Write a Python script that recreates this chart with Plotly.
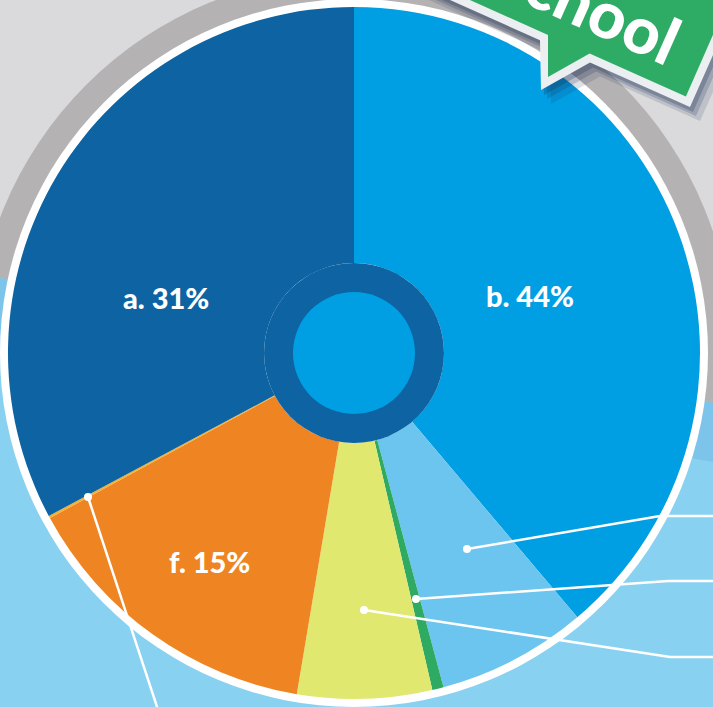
import math
import plotly.graph_objects as go

W, H = 713, 707

# ---- data (slice shares, clockwise from 12 o'clock) ----
categories = ["b", "c", "d", "e", "f", "g", "a"]
values = [38.83, 7.0, 0.53, 6.28, 14.44, 0.11, 32.8]
slice_colors = ["#009fe3", "#6cc5ee", "#2eaa63", "#e0e870", "#ee8422", "#f2b134", "#0e63a2"]
label_texts = ["a. 31%", "b. 44%", "f. 15%"]
banner_text = "school"

# ---- geometry helpers (pixel -> paper) ----
CX, CY, R = 354, 353, 346


def px(x):
    return x / W


def py(y):
    return 1 - y / H


def circle(cx, cy, r, color, layer):
    return dict(type="circle", xref="paper", yref="paper",
                x0=px(cx - r), x1=px(cx + r), y0=py(cy + r), y1=py(cy - r),
                fillcolor=color, line=dict(width=0), layer=layer)


def path(points, color=None, line_color=None, lw=0, layer="above", closed=True):
    d = "M " + " L ".join(f"{px(x):.5f},{py(y):.5f}" for x, y in points)
    if closed:
        d += " Z"
    s = dict(type="path", xref="paper", yref="paper", path=d, layer=layer,
             line=dict(width=lw, color=line_color or "rgba(0,0,0,0)"))
    if color:
        s["fillcolor"] = color
    return s


shapes = []
# background pieces (below the pie)
shapes.append(circle(CX, CY, 379, "#b4b2b3", "below"))
shapes.append(path([(0, 278), (713, 403), (713, 707), (0, 707)], "#88d1f1", layer="below"))
shapes.append(path([(0, 278), (713, 403), (713, 462), (0, 337)], "#7dc4ea", layer="below"))
shapes.append(circle(CX, CY, 354, "#ffffff", "below"))

# centre ring
shapes.append(circle(CX, CY, 90, "#0e63a2", "above"))
shapes.append(circle(CX, CY, 61, "#009fe3", "above"))

# leader lines
leaders = [
    [(467, 549), (660, 516), (720, 516)],
    [(416, 599), (668, 581), (720, 581)],
    [(364, 610), (670, 657), (720, 657)],
    [(88, 497), (162, 722)],
]
for pts in leaders:
    shapes.append(path(pts, None, "#ffffff", 2.5, closed=False))
    shapes.append(circle(pts[0][0], pts[0][1], 4, "#ffffff", "above"))

# banner
outer = [(325, -56), (540, 40.3), (541, 90), (590, 62.5), (690, 107), (771, -76), (406, -239)]
inner = [(336, -60), (548, 35), (548, 77), (589.6, 53.6), (685.9, 96.4), (760, -72), (410, -228)]
for dx, dy, a in [(10, 14, 0.14), (6, 9, 0.2), (3, 5, 0.25)]:
    shapes.append(path([(x + dx, y + dy) for x, y in outer], f"rgba(25,45,85,{a})"))
shapes.append(path(outer, "#eceff2"))
shapes.append(path(inner, "#2eac66"))

fig = go.Figure()
fig.add_trace(go.Pie(
    labels=categories, values=values, sort=False, direction="clockwise", rotation=0,
    hole=0.26, textinfo="none", hoverinfo="label+percent",
    marker=dict(colors=slice_colors, line=dict(width=0)),
    domain=dict(x=[px(CX - R), px(CX + R)], y=[py(CY + R), py(CY - R)]),
    showlegend=False,
))

label_font = dict(family="Lato, 'Open Sans', sans-serif", size=29, color="#ffffff", weight=900)
annotations = [
    dict(text=label_texts[0], x=px(166), y=py(297)),
    dict(text=label_texts[1], x=px(530), y=py(295)),
    dict(text=label_texts[2], x=px(209), y=py(561)),
]
for a in annotations:
    a.update(xref="paper", yref="paper", showarrow=False, font=label_font,
             xanchor="center", yanchor="middle")
annotations.append(dict(text=banner_text, x=px(590), y=py(5), xref="paper", yref="paper",
                        showarrow=False, textangle=24, xanchor="center", yanchor="middle",
                        font=dict(family="Lato, 'Open Sans', sans-serif", size=65,
                                  color="#ffffff", weight=900)))

fig.update_layout(
    width=W, height=H, margin=dict(l=0, r=0, t=0, b=0),
    paper_bgcolor="#dadadc", plot_bgcolor="rgba(0,0,0,0)",
    shapes=shapes, annotations=annotations, showlegend=False,
)
fig.write_html("out.html", config=dict(displayModeBar=False))
